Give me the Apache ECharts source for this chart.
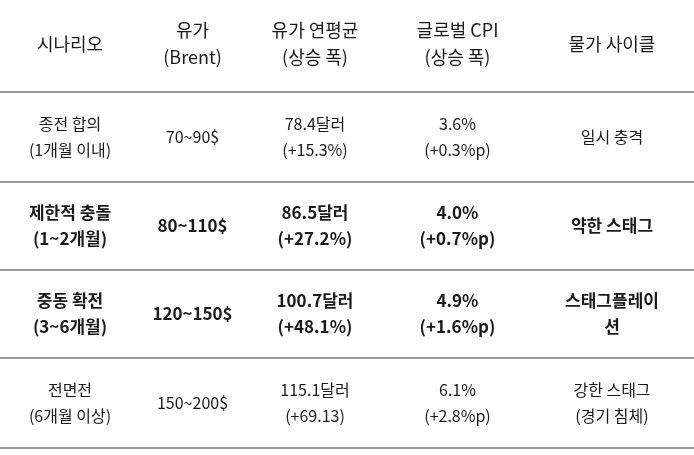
<!DOCTYPE html>
<html>
<head>
    <meta charset="UTF-8">
    <title></title>
    <script src="https://cdn.jsdelivr.net/npm/echarts@6/dist/echarts.min.js"></script>
    <style>
        * { padding: 0; margin: 0; }
        body { background: #fff; }
        #main { width: 694px; height: 455px; }
    </style>
</head>
<body>
    <div id="main"></div>
<script>
    // table content
    var headers = ['시나리오', '유가\n(Brent)', '유가 연평균\n(상승 폭)', '글로벌 CPI\n(상승 폭)', '물가 사이클'];
    var scenarios = ['종전 합의\n(1개월 이내)', '제한적 충돌\n(1~2개월)', '중동 확전\n(3~6개월)', '전면전\n(6개월 이상)'];
    var oilRange = ['70~90$', '80~110$', '120~150$', '150~200$'];
    var oilAvg = ['78.4달러\n(+15.3%)', '86.5달러\n(+27.2%)', '100.7달러\n(+48.1%)', '115.1달러\n(+69.13)'];
    var cpi = ['3.6%\n(+0.3%p)', '4.0%\n(+0.7%p)', '4.9%\n(+1.6%p)', '6.1%\n(+2.8%p)'];
    var cycle = ['일시 충격', '약한 스태그', '스태그플레이\n션', '강한 스태그\n(경기 침체)'];
    var boldRows = [2, 3];

    var colEdges = [0, 140, 245, 385, 530, 694];
    var rowEdges = [0, 92, 182, 270, 358, 448];

    var cells = [];
    headers.forEach(function (t, c) { cells.push([c, 0, t]); });
    [scenarios, oilRange, oilAvg, cpi, cycle].forEach(function (col, c) {
        col.forEach(function (t, r) { cells.push([c, r + 1, t]); });
    });

    var chart = echarts.init(document.getElementById('main'));
    chart.setOption({
        animation: false,
        grid: { left: 0, right: 0, top: 0, bottom: 0 },
        xAxis: { type: 'value', min: 0, max: 694, show: false },
        yAxis: { type: 'value', min: 0, max: 455, inverse: true, show: false },
        series: [{
            type: 'custom',
            data: cells,
            renderItem: function (params, api) {
                var c = api.value(0), r = api.value(1);
                var p0 = api.coord([colEdges[c], rowEdges[r]]);
                var p1 = api.coord([colEdges[c + 1], rowEdges[r + 1]]);
                var text = cells[params.dataIndex][2];
                var header = r === 0;
                var bold = boldRows.indexOf(r) >= 0;
                var children = [{
                    type: 'text',
                    style: {
                        text: text,
                        x: (p0[0] + p1[0]) / 2,
                        y: (p0[1] + p1[1]) / 2 + (header ? -2 : 0),
                        align: 'center',
                        verticalAlign: 'middle',
                        fontFamily: 'Noto Sans CJK KR',
                        fontSize: header ? 18 : (bold ? 17 : 16),
                        fontWeight: bold ? 'bold' : 'normal',
                        lineHeight: header ? 27 : 26,
                        fill: '#1a1a1a'
                    }
                }];
                if (c === 0) {
                    children.push({
                        type: 'line',
                        shape: { x1: 0, y1: p1[1], x2: 694, y2: p1[1] },
                        style: { stroke: '#9a9a9a', lineWidth: 2 }
                    });
                }
                return { type: 'group', children: children };
            }
        }]
    });
</script>
</body>
</html>
